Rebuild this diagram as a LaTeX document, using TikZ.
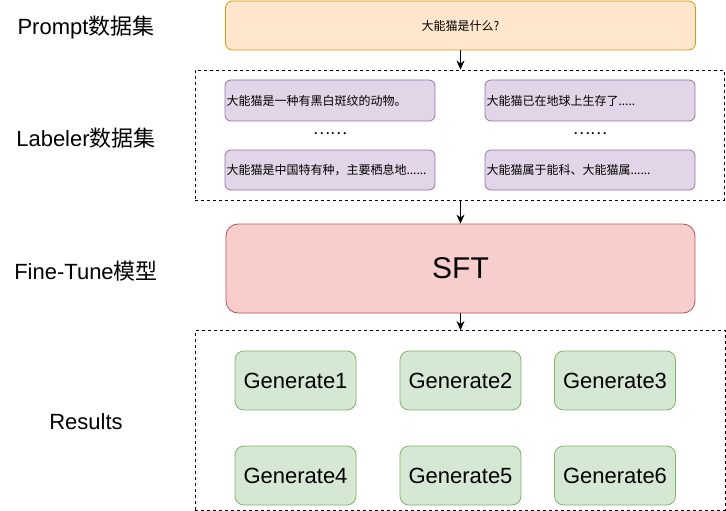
\documentclass[tikz,border=0pt]{standalone}
\usepackage{fontspec}
\setmainfont{Liberation Sans}
\newfontfamily\cjk{Noto Sans CJK SC}
\usetikzlibrary{arrows.meta}
\definecolor{promptfill}{HTML}{FFE6CC}
\definecolor{promptline}{HTML}{D79B00}
\definecolor{labelfill}{HTML}{E1D5E7}
\definecolor{labelline}{HTML}{9673A6}
\definecolor{sftfill}{HTML}{F8CECC}
\definecolor{sftline}{HTML}{B85450}
\definecolor{genfill}{HTML}{D5E8D4}
\definecolor{genline}{HTML}{82B366}
\tikzset{
BOX/.style ={line width=0.8pt, inner sep=0pt},
PROMPT/.style ={BOX, draw=promptline, fill=promptfill, rounded corners=7pt, minimum width=470pt, minimum height=49pt, font=\cjk\fontsize{12}{14}\selectfont},
LABEL/.style ={BOX, draw=labelline, fill=labelfill, rounded corners=6pt, minimum width=210pt, minimum height=41pt, text width=207pt, align=left, font=\cjk\fontsize{12}{14}\selectfont},
SFT/.style ={BOX, draw=sftline, fill=sftfill, rounded corners=12pt, minimum width=469pt, minimum height=89pt, font=\fontsize{30}{34}\selectfont},
GEN/.style ={BOX, draw=genline, fill=genfill, rounded corners=9pt, minimum width=121pt, minimum height=59pt, font=\fontsize{22}{26}\selectfont},
GROUP/.style ={draw=black, dash pattern=on 3pt off 3pt, line width=0.8pt, inner sep=0pt},
TITLE/.style ={font=\fontsize{22}{26}\selectfont},
DOTS/.style ={font=\cjk\fontsize{16}{18}\selectfont},
FLOW/.style ={-{Stealth[length=9pt,width=8pt]}, line width=1pt},
}
\begin{document}
\begin{tikzpicture}[x=1pt,y=-1pt]
	\useasboundingbox (0,0) rectangle (726,511);
	%titles
	\node[TITLE] (tprompt) at (86,28) {Prompt{\cjk 数据集}};
	\node[TITLE] (tlabel) at (86,138) {Labeler{\cjk 数据集}};
	\node[TITLE] (tsft) at (86,271) {Fine-Tune{\cjk 模型}};
	\node[TITLE] (tresult) at (86,422) {Results};
	%prompt
	\node[PROMPT] (prompt) at (460.5,25.5) {大能猫是什么?};
	%labeler
	\node[GROUP, minimum width=529pt, minimum height=130pt] (labelset) at (459.5,135) {};
	\node[LABEL] (lab1) at (330,100.5) {大能猫是一种有黑白斑纹的动物。};
	\node[LABEL] (lab2) at (590,100.5) {大能猫已在地球上生存了.....};
	\node[LABEL, minimum height=40pt] (lab3) at (330,170) {大能猫是中国特有种，主要栖息地......};
	\node[LABEL, minimum height=40pt] (lab4) at (590,170) {大能猫属于能科、大能猫属......};
	\node[DOTS] (dots1) at (330,134) {……};
	\node[DOTS] (dots2) at (590,134) {……};
	%sft
	\node[SFT] (sft) at (460.5,268.5) {SFT};
	%results
	\node[GROUP, minimum width=530pt, minimum height=179.5pt] (results) at (460,420.25) {};
	\foreach \i/\x/\y in {1/295.5/380.5, 2/460.5/380.5, 3/615/380.5, 4/295.5/475.5, 5/460.5/475.5, 6/615/475.5}
		\node[GEN] (gen\i) at (\x,\y) {Generate\i};
	%arrows
	\draw[FLOW] (prompt.south) -- (prompt.south |- labelset.north);
	\draw[FLOW] (labelset.south -| sft.north) -- (sft.north);
	\draw[FLOW] (sft.south) -- (sft.south |- results.north);
\end{tikzpicture}
\end{document}
